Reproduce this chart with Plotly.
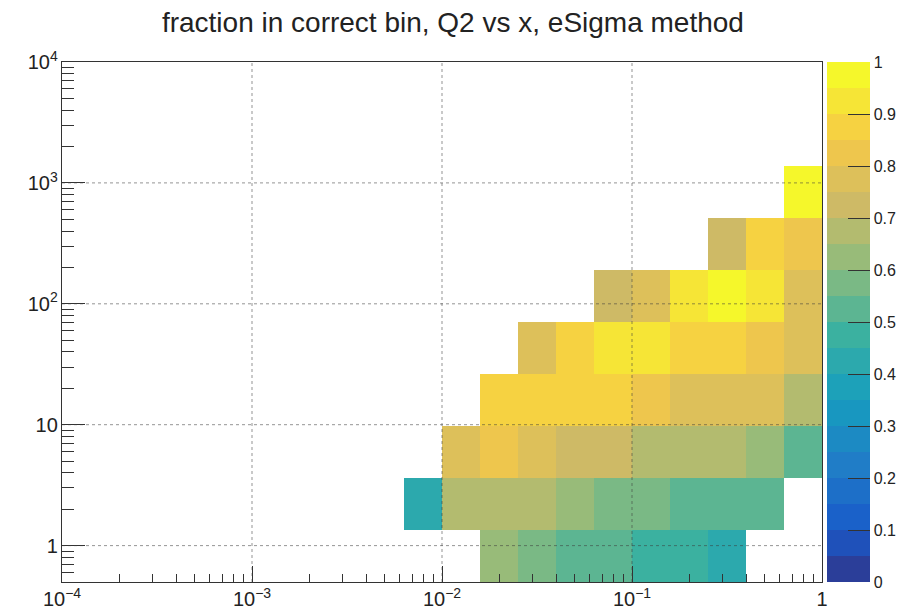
import plotly.graph_objects as go
import math

# ---------------- data ----------------
# log10 bin edges: x -> 20 bins from 1e-4 to 1 ; y (Q2) -> 10 bins from 0.5 to 1e4
x_edges_log = [-4 + 0.2 * i for i in range(21)]
y_lo, y_hi, n_ybins = 0.5, 1.0e4, 10

# fraction in correct bin, one row per Q2 bin (bottom -> top), None = empty
row0 = [None]*11 + [0.62, 0.57, 0.53, 0.52, 0.48, 0.47, 0.43, None, None]
row1 = [None]*9 + [0.42, 0.68, 0.67, 0.66, 0.62, 0.58, 0.57, 0.53, 0.52, 0.53, None]
row2 = [None]*10 + [0.77, 0.82, 0.78, 0.72, 0.73, 0.68, 0.67, 0.68, 0.63, 0.52]
row3 = [None]*11 + [0.87, 0.88, 0.87, 0.88, 0.83, 0.78, 0.77, 0.78, 0.68]
row4 = [None]*12 + [0.77, 0.87, 0.92, 0.91, 0.88, 0.87, 0.82, 0.77]
row5 = [None]*14 + [0.73, 0.78, 0.92, 0.96, 0.91, 0.76]
row6 = [None]*17 + [0.72, 0.86, 0.83]
row7 = [None]*19 + [0.97]
row8 = [None]*20
row9 = [None]*20
z = [row0, row1, row2, row3, row4, row5, row6, row7, row8, row9]

x_tickvals = [1e-4, 1e-3, 1e-2, 1e-1, 1]
y_tickvals = [1, 10, 100, 1000, 10000]
title_text = "fraction in correct bin, Q2 vs x, eSigma method"

# ---------------- derived ----------------
x_edges = [10 ** v for v in x_edges_log]
ly0, ly1 = math.log10(y_lo), math.log10(y_hi)
y_edges = [10 ** (ly0 + (ly1 - ly0) * i / n_ybins) for i in range(n_ybins + 1)]

# ROOT kBird palette, 20 contour bands
stops = [0.0, 0.125, 0.25, 0.375, 0.5, 0.625, 0.75, 0.875, 1.0]
red = [0.2082, 0.0592, 0.0780, 0.0232, 0.1802, 0.5301, 0.8186, 0.9956, 0.9764]
green = [0.1664, 0.3599, 0.5041, 0.6419, 0.7178, 0.7492, 0.7328, 0.7862, 0.9832]
blue = [0.5293, 0.8684, 0.8385, 0.7914, 0.6425, 0.4662, 0.3499, 0.1968, 0.0539]
DESAT = 0.14


def bird(t):
    t = min(max(t, 0.0), 1.0)
    for k in range(len(stops) - 1):
        if t <= stops[k + 1]:
            f = (t - stops[k]) / (stops[k + 1] - stops[k])
            r = (red[k] + (red[k + 1] - red[k]) * f) * 255
            g = (green[k] + (green[k + 1] - green[k]) * f) * 255
            b = (blue[k] + (blue[k + 1] - blue[k]) * f) * 255
            lum = 0.299 * r + 0.587 * g + 0.114 * b
            r, g, b = [v * (1 - DESAT) + lum * DESAT for v in (r, g, b)]
            return "rgb(%d,%d,%d)" % (round(r), round(g), round(b))


nb = 20
colorscale = []
for i in range(nb):
    t = int((i + 0.99) * 255 / nb) / 254.0
    c = bird(t)
    colorscale.append([i / nb, c])
    colorscale.append([(i + 1) / nb, c])

fig = go.Figure()
fig.add_trace(go.Heatmap(
    x=x_edges, y=y_edges, z=z, zmin=0, zmax=1,
    colorscale=colorscale, hoverongaps=False,
    colorbar=dict(
        x=1.0066, xanchor="left", xpad=0, ypad=0,
        y=0.5, yanchor="middle", len=1.0, lenmode="fraction",
        thickness=43, thicknessmode="pixels", outlinewidth=0,
        ticks="inside", ticklen=22, tickcolor="#333", tickwidth=1,
        tick0=0, dtick=0.1,
        tickfont=dict(family="Liberation Sans", size=16, color="#222"),
    ),
))

grid_style = dict(color="rgba(60,60,60,0.55)", width=1, dash="dot")
shapes = []
for xv in x_tickvals[1:-1]:
    shapes.append(dict(type="line", xref="x", yref="paper", x0=xv, x1=xv, y0=0, y1=1,
                       line=grid_style, layer="above"))
for yv in y_tickvals[:-1]:
    shapes.append(dict(type="line", xref="paper", yref="y", x0=0, x1=1, y0=yv, y1=yv,
                       line=grid_style, layer="above"))

axis_common = dict(
    type="log", showgrid=False, zeroline=False,
    showline=True, linecolor="#333", linewidth=1, mirror=True,
    ticks="inside", tickcolor="#333", tickwidth=1,
    exponentformat="power", dtick=1,
    tickfont=dict(family="Liberation Sans", size=16, color="#222"),
)

fig.update_layout(
    width=908, height=609,
    margin=dict(l=54, r=94, t=54, b=35, autoexpand=False),
    paper_bgcolor="white", plot_bgcolor="white",
    title=dict(text=title_text, x=0.49, xref="container", xanchor="center",
               y=1 - 14 / 609, yref="container", yanchor="middle",
               font=dict(family="Liberation Sans", size=28, color="#222")),
    shapes=shapes,
    xaxis=dict(axis_common, range=[-4, 0], ticklen=16,
               minor=dict(ticks="inside", ticklen=8, dtick="D1", tickcolor="#333", showgrid=False)),
    yaxis=dict(axis_common, range=[ly0, ly1], ticklen=23,
               minor=dict(ticks="inside", ticklen=12, dtick="D1", tickcolor="#333", showgrid=False)),
)

fig.write_html("out.html")
